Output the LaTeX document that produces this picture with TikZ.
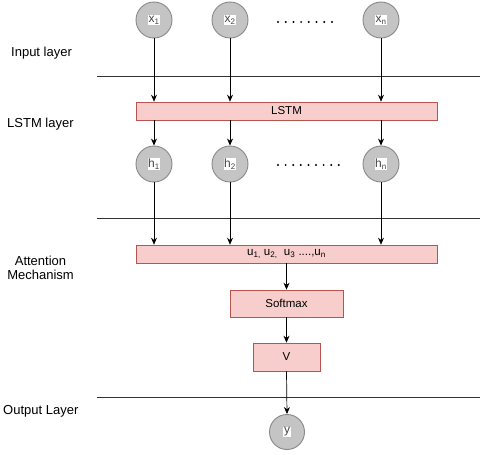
\documentclass[tikz,border=0pt]{standalone}
\usepackage{fontspec}
\setmainfont{Liberation Sans}
\usetikzlibrary{arrows.meta}
\definecolor{boxfill}{HTML}{F8CECC}
\definecolor{boxdraw}{HTML}{B85450}
\definecolor{neufill}{HTML}{C4C4C4}
\definecolor{neudraw}{HTML}{888888}
\definecolor{neutext}{HTML}{444444}
\newcommand{\neulab}[1]{\colorbox{white}{\textcolor{neutext}{#1}}}
\begin{document}
\begin{tikzpicture}[x=1pt,y=-1pt,
  neuron/.style={circle, draw=neudraw, fill=neufill, line width=0.9pt, minimum size=36pt, inner sep=0pt, font=\fontsize{12}{14}\selectfont},
  layerbox/.style={rectangle, draw=boxdraw, fill=boxfill, line width=0.6pt, inner sep=0pt, font=\fontsize{11.5}{13}\selectfont},
  arr/.style={-{Stealth[length=7pt,width=6pt]}, line width=0.7pt, black},
  sepline/.style={line width=0.8pt, black!80},
  layerlab/.style={font=\fontsize{13}{15}\selectfont, inner sep=0pt, align=center}
]
\useasboundingbox (0,0) rectangle (480,455);
\setlength{\fboxsep}{0.6pt}
% separator lines
\coordinate (s1a) at (97,76); \coordinate (s1b) at (480,76);
\coordinate (s2a) at (97,218); \coordinate (s2b) at (480,218);
\coordinate (s3a) at (97,397); \coordinate (s3b) at (480,397);
\draw[sepline] (s1a) -- (s1b);
\draw[sepline] (s2a) -- (s2b);
\draw[sepline] (s3a) -- (s3b);
% layer labels
\node[layerlab, anchor=west] (lin) at (11,53) {Input layer};
\node[layerlab, anchor=west] (llstm) at (7,124) {LSTM layer};
\node[layerlab] (latt) at (40.5,268) {Attention\\[-1.5pt]Mechanism};
\node[layerlab, anchor=west] (lout) at (3,411) {Output Layer};
% input neurons
\node[neuron] (x1) at (154,20) {\neulab{x\textsubscript{1}}};
\node[neuron] (x2) at (230,20) {\neulab{x\textsubscript{2}}};
\node[neuron] (xn) at (381,20) {\neulab{x\textsubscript{n}}};
\foreach \i in {0,...,7} \fill (278+7.7*\i,22) circle (1.1pt);
% LSTM box
\node[layerbox, minimum width=301pt, minimum height=18pt] (lstm) at (286.5,111) {LSTM};
% hidden neurons
\node[neuron] (h1) at (154,164) {\neulab{h\textsubscript{1}}};
\node[neuron] (h2) at (230,164) {\neulab{h\textsubscript{2}}};
\node[neuron] (hn) at (381,164) {\neulab{h\textsubscript{n}}};
\foreach \i in {0,...,8} \fill (278+7.6*\i,165) circle (1.1pt);
% attention box
\node[layerbox, minimum width=301pt, minimum height=18pt] (ubox) at (286.5,254) {u\textsubscript{1,} u\textsubscript{2,}\ \ u\textsubscript{3} ....,u\textsubscript{n}};
\node[layerbox, minimum width=113pt, minimum height=27pt] (soft) at (286.5,303.5) {Softmax};
\node[layerbox, minimum width=67pt, minimum height=28pt] (vbox) at (286.5,357) {V};
% output neuron
\node[neuron, minimum size=35pt] (yout) at (287,432) {\neulab{y}};
% arrows
\draw[arr] (x1.south) -- (x1.south |- lstm.north);
\draw[arr] (x2.south) -- (x2.south |- lstm.north);
\draw[arr] (xn.south) -- (xn.south |- lstm.north);
\draw[arr] (h1.north |- lstm.south) -- (h1.north);
\draw[arr] (h2.north |- lstm.south) -- (h2.north);
\draw[arr] (hn.north |- lstm.south) -- (hn.north);
\draw[arr] (h1.south) -- (h1.south |- ubox.north);
\draw[arr] (h2.south) -- (h2.south |- ubox.north);
\draw[arr] (hn.south) -- (hn.south |- ubox.north);
\draw[arr] (ubox.south) -- (soft.north);
\draw[arr] (soft.south) -- (vbox.north);
\draw[arr] (vbox.south) -- (yout.north);
\end{tikzpicture}
\end{document}
